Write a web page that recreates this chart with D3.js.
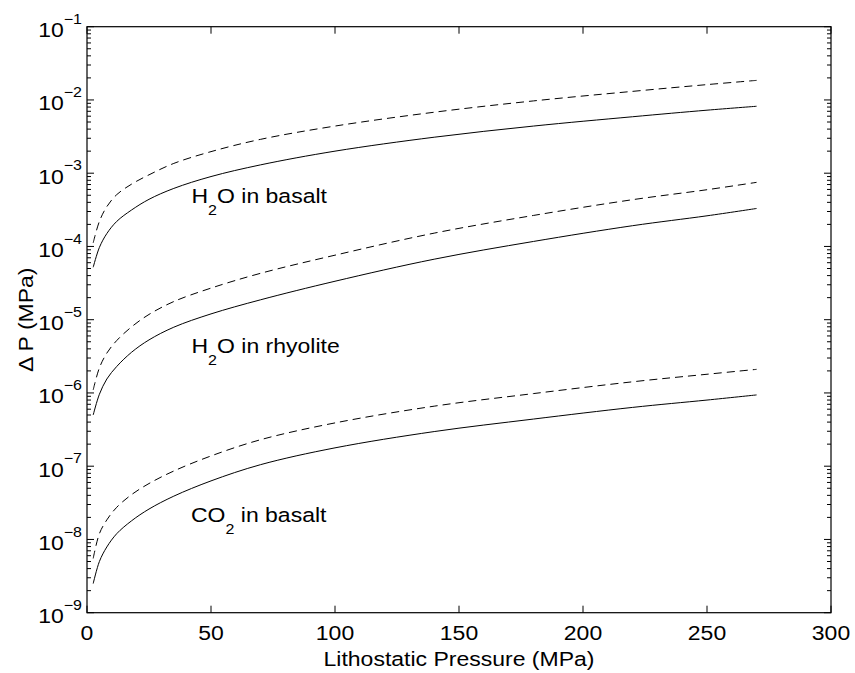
<!DOCTYPE html>
<html>
<head>
<meta charset="utf-8">
<script src="https://cdn.jsdelivr.net/npm/d3@7"></script>
<style>
  html, body { margin: 0; padding: 0; background: #fff; }
  svg { display: block; }
  text { font-family: "Liberation Sans", Arial, Helvetica, sans-serif; fill: #000; }
</style>
</head>
<body>
<svg id="chart" width="855" height="673"></svg>
<script>
// Lithostatic pressure (MPa) at which each curve is sampled
const pressure = [2.5, 5, 8, 12, 18, 25, 35, 50, 70, 100, 140, 180, 220, 250, 270];

// Pressure difference ΔP (MPa) — solid and dashed curve for each melt/volatile pair
const h2oBasaltSolid   = [5.2e-5, 9.7e-5, 1.5e-4, 2.2e-4, 3.15e-4, 4.4e-4, 6.2e-4, 9.0e-4, 1.3e-3, 2.0e-3, 3.1e-3, 4.4e-3, 5.9e-3, 7.25e-3, 8.2e-3];
const h2oBasaltDashed  = [1.12e-4, 2.2e-4, 3.5e-4, 5.1e-4, 7.1e-4, 9.5e-4, 1.36e-3, 1.97e-3, 2.9e-3, 4.4e-3, 6.8e-3, 9.7e-3, 1.31e-2, 1.62e-2, 1.85e-2];
const h2oRhyoliteSolid = [5.0e-7, 9.6e-7, 1.55e-6, 2.3e-6, 3.6e-6, 5.3e-6, 7.9e-6, 1.2e-5, 1.87e-5, 3.35e-5, 6.7e-5, 1.17e-4, 1.92e-4, 2.62e-4, 3.3e-4];
const h2oRhyoliteDashed= [1.1e-6, 2.2e-6, 3.5e-6, 5.2e-6, 8.0e-6, 1.18e-5, 1.77e-5, 2.7e-5, 4.3e-5, 7.6e-5, 1.52e-4, 2.65e-4, 4.35e-4, 5.95e-4, 7.5e-4];
const co2BasaltSolid   = [2.5e-9, 5.0e-9, 7.9e-9, 1.2e-8, 1.8e-8, 2.6e-8, 3.9e-8, 6.3e-8, 1.05e-7, 1.78e-7, 2.97e-7, 4.4e-7, 6.35e-7, 8.0e-7, 9.4e-7];
const co2BasaltDashed  = [5.5e-9, 1.2e-8, 1.85e-8, 2.75e-8, 4.1e-8, 5.8e-8, 8.6e-8, 1.38e-7, 2.3e-7, 3.9e-7, 6.6e-7, 9.8e-7, 1.42e-6, 1.8e-6, 2.1e-6];

// Axis ticks
const xTicks = [0, 50, 100, 150, 200, 250, 300];
const yExponents = [-9, -8, -7, -6, -5, -4, -3, -2, -1];

// Curve annotations: [main, subscript, rest]
const curveLabels = [
  ["H", "2", "O in basalt"],
  ["H", "2", "O in rhyolite"],
  ["CO", "2", " in basalt"]
];

const svg = d3.select("#chart");
const plotLeft = 87, plotRight = 831, plotTop = 26.7, plotBottom = 612.7;
const FONT = 23, SMALL = 16, SQUASH = 0.9;

const x = d3.scaleLinear().domain([0, 300]).range([plotLeft, plotRight]);
const y = d3.scaleLog().domain([1e-9, 1e-1]).range([plotBottom, plotTop]);

svg.append("rect").attr("width", 855).attr("height", 673).attr("fill", "#fff");

// Text placed at (tx, ty) with glyphs slightly compressed vertically
function label(tx, ty, extra = "") {
  return svg.append("text")
    .attr("transform", `translate(${tx},${ty}) ${extra} scale(1,${SQUASH})`)
    .attr("font-size", FONT);
}

// Ticks (inward on all four sides)
const tickG = svg.append("g").attr("stroke", "#000").attr("stroke-width", 1);
const majorLen = 7, minorLen = 4;
xTicks.forEach(t => {
  const px = x(t);
  tickG.append("line").attr("x1", px).attr("x2", px).attr("y1", plotBottom).attr("y2", plotBottom - majorLen);
  tickG.append("line").attr("x1", px).attr("x2", px).attr("y1", plotTop).attr("y2", plotTop + majorLen);
});
y.ticks().forEach(t => {
  const isMajor = Math.abs(Math.log10(t) - Math.round(Math.log10(t))) < 1e-9;
  const len = isMajor ? majorLen : minorLen;
  const py = y(t);
  tickG.append("line").attr("x1", plotLeft).attr("x2", plotLeft + len).attr("y1", py).attr("y2", py);
  tickG.append("line").attr("x1", plotRight).attr("x2", plotRight - len).attr("y1", py).attr("y2", py);
});

// Axis box
svg.append("rect")
  .attr("x", plotLeft).attr("y", plotTop)
  .attr("width", plotRight - plotLeft).attr("height", plotBottom - plotTop)
  .attr("fill", "none").attr("stroke", "#000").attr("stroke-width", 1.2);

// X tick labels
xTicks.forEach(d => {
  label(x(d), plotBottom + 27.3).attr("text-anchor", "middle").text(d);
});

// Y tick labels: 10 with superscript exponent
yExponents.forEach(d => {
  const t = label(plotLeft - 5, y(Math.pow(10, d)) + 10.3).attr("text-anchor", "end");
  t.append("tspan").text("10");
  t.append("tspan").attr("dy", -14.5).attr("font-size", SMALL).text("\u2212" + Math.abs(d));
});

// Axis titles
label((plotLeft + plotRight) / 2, 666).attr("text-anchor", "middle")
  .text("Lithostatic Pressure (MPa)");
label(33, (plotTop + plotBottom) / 2, "rotate(-90)").attr("text-anchor", "middle")
  .text("\u0394 P (MPa)");

// Curves
const line = d3.line()
  .x((d, i) => x(pressure[i]))
  .y(d => y(d))
  .curve(d3.curveCatmullRom.alpha(0.5));

const series = [
  { values: h2oBasaltSolid, dash: null },
  { values: h2oBasaltDashed, dash: "8,5" },
  { values: h2oRhyoliteSolid, dash: null },
  { values: h2oRhyoliteDashed, dash: "8,5" },
  { values: co2BasaltSolid, dash: null },
  { values: co2BasaltDashed, dash: "8,5" }
];
svg.append("g").selectAll("path").data(series).join("path")
  .attr("d", d => line(d.values))
  .attr("fill", "none").attr("stroke", "#000").attr("stroke-width", 1)
  .attr("stroke-dasharray", d => d.dash);

// Curve annotations
const labelPos = [[191.5, 203.3], [191.5, 353.3], [191, 522.3]];
curveLabels.forEach((parts, i) => {
  const t = label(labelPos[i][0], labelPos[i][1]);
  t.append("tspan").text(parts[0]);
  t.append("tspan").attr("dy", 12.5).attr("font-size", SMALL).text(parts[1]);
  t.append("tspan").attr("dy", -12.5).text(parts[2]);
});
</script>
</body>
</html>
